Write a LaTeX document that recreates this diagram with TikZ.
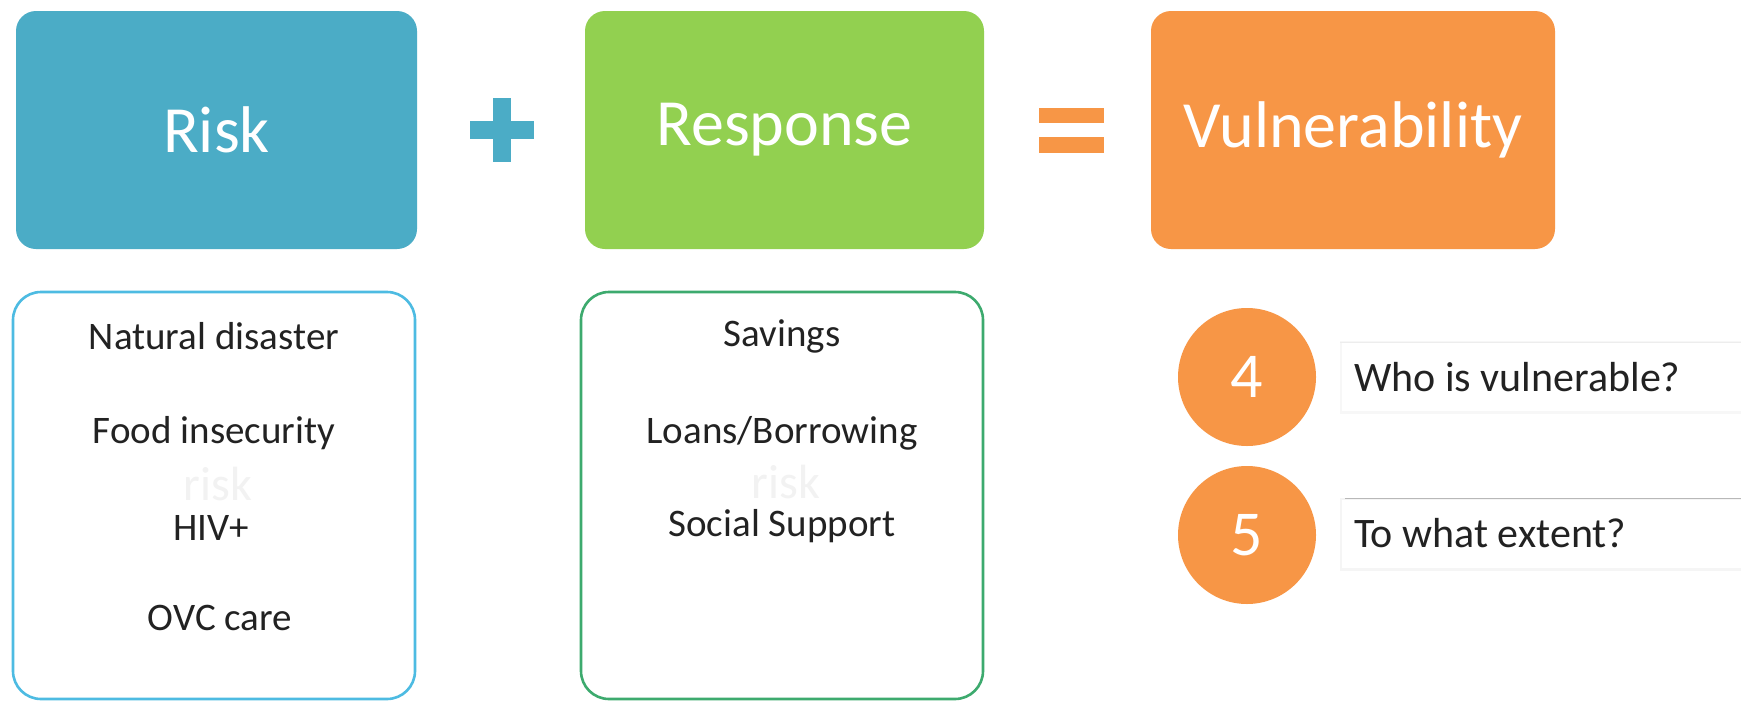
\documentclass[tikz,border=0pt]{standalone}
\usepackage{fontspec}
\setmainfont{Carlito}
\definecolor{riskblue}{HTML}{4BACC6}
\definecolor{riskline}{HTML}{4DBBE2}
\definecolor{respgreen}{HTML}{92D050}
\definecolor{respline}{HTML}{3DAA6E}
\definecolor{vulnorange}{HTML}{F79646}
\definecolor{bodytext}{HTML}{222222}
\begin{document}
\begin{tikzpicture}[x=1pt,y=-1pt,
  headbox/.style={rectangle, rounded corners=20pt, minimum height=238pt,
    text=white, font=\fontsize{66}{70}\selectfont, inner sep=0pt},
  listbox/.style={draw, line width=2.6pt, rounded corners=28pt},
  item/.style={text=bodytext, font=\fontsize{39}{42}\selectfont, inner sep=0pt},
  ghost/.style={text=black!5, font=\fontsize{48}{50}\selectfont, inner sep=0pt},
  numdisc/.style={circle, fill=vulnorange, minimum size=138pt, inner sep=0pt,
    text=white, font=\fontsize{64}{66}\selectfont},
  qtext/.style={text=bodytext, font=\fontsize{42}{44}\selectfont, inner sep=0pt, anchor=west}]
\useasboundingbox (0,0) rectangle (1741,702);
\fill[white] (0,0) rectangle (1741,702);

% headline boxes
\node[headbox, fill=riskblue, minimum width=401pt] (risk) at (216.5,130) {Risk};
\node[headbox, fill=respgreen, minimum width=399pt] (resp) at (784.5,130) {Response};
\node[headbox, fill=vulnorange, minimum width=404pt] (vuln) at (1353,130) {Vulnerability};

% plus sign
\fill[riskblue] (470,121) rectangle (534,139);
\fill[riskblue] (493,98) rectangle (511,162);
% equals sign
\fill[vulnorange] (1039,108) rectangle (1104,123);
\fill[vulnorange] (1039,137) rectangle (1104,153);

% list boxes
\draw[listbox, riskline] (13,292) rectangle (415,699);
\draw[listbox, respline] (581,292) rectangle (983,699);

\node[ghost] (gr1) at (218,484) {risk};
\node[ghost] (gr2) at (786,482) {risk};

\node[item] (r1) at (214,336) {Natural disaster};
\node[item] (r2) at (214,433) {Food insecurity};
\node[item] (r3) at (211,528) {HIV+};
\node[item] (r4) at (220,618) {OVC care};

\node[item] (s1) at (782,336) {Savings};
\node[item] (s2) at (782,433) {Loans/Borrowing};
\node[item] (s3) at (782,526) {Social Support};

% question bars
\fill[black!3] (1340,341) rectangle (1741,414);
\fill[white] (1342,343) rectangle (1741,411);
\draw[black!7, line width=0.8pt] (1340,342) -- (1741,342);
\fill[black!4] (1340,498) rectangle (1741,571);
\fill[white] (1342,500) rectangle (1741,568);
\draw[black!28, line width=1pt] (1345,498) -- (1741,498);

\node[numdisc] (n4) at (1247,377) {4};
\node[numdisc] (n5) at (1247,535) {5};

\node[qtext] (q4) at (1354,377) {Who is vulnerable?};
\node[qtext] (q5) at (1354,533) {To what extent?};
\end{tikzpicture}
\end{document}
